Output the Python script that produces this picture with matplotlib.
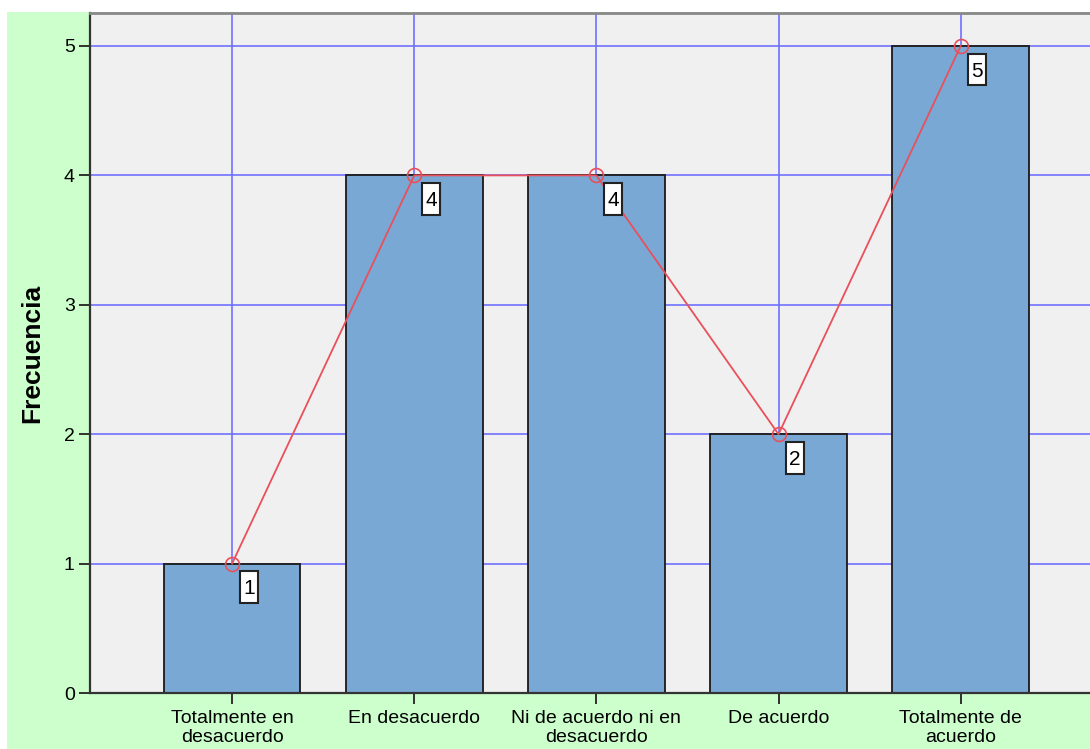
import matplotlib
matplotlib.use("Agg")
import matplotlib.pyplot as plt
from matplotlib.patches import Rectangle
from matplotlib.path import Path

categories = ["Totalmente en\ndesacuerdo", "En desacuerdo", "Ni de acuerdo ni en\ndesacuerdo",
              "De acuerdo", "Totalmente de\nacuerdo"]
frecuencia = [1, 4, 4, 2, 5]
y_ticks = [0, 1, 2, 3, 4, 5]

plt.rcParams["font.family"] = ["Liberation Sans", "DejaVu Sans"]

W, H = 1090, 749
fig = plt.figure(figsize=(W / 100, H / 100), dpi=100)
fig.patch.set_facecolor("white")
# light green panel behind the chart
fig.patches.append(Rectangle((7 / W, 0), 1 - 7 / W, (H - 12) / H, transform=fig.transFigure,
                             facecolor="#ccffcc", edgecolor="none", zorder=-1))

ax = fig.add_axes([90 / W, (H - 693) / H, 1 - 90 / W, (693 - 13) / H])
ax.set_facecolor("#f0f0f0")

x = list(range(len(categories)))
ax.set_xlim(-0.78, 4.71)
ax.set_ylim(0, 5.255)

ax.bar(x, frecuencia, width=0.75, color="#79a8d5", edgecolor="#1a1a1a", linewidth=1.3, zorder=2)
ax.plot(x, frecuencia, color="#e9505a", linewidth=1.3, marker="o", markersize=10,
        markerfacecolor="none", markeredgecolor="#e9505a", markeredgewidth=1.2, zorder=4)


def tall_box(x0, y0, width, height, mutation_size):
    """Label box: narrow side padding, taller top/bottom padding, digit centred."""
    px = 0.16 * mutation_size
    top, bottom = 0.38 * mutation_size, 0.22 * mutation_size
    xa, ya = x0 - px, y0 - bottom
    xb, yb = x0 + width + px, y0 + height + top
    return Path([(xa, ya), (xb, ya), (xb, yb), (xa, yb), (xa, ya)],
                [Path.MOVETO, Path.LINETO, Path.LINETO, Path.LINETO, Path.CLOSEPOLY])


for xi, v in zip(x, frecuencia):
    ax.annotate(str(v), (xi, v), xytext=(12, -18.2), textcoords="offset points",
                ha="center", va="center", fontsize=15, color="black", zorder=5,
                bbox=dict(boxstyle=tall_box, facecolor="white",
                          edgecolor="#222222", linewidth=1.5))

ax.set_xticks(x)
ax.set_xticklabels(categories, fontsize=14, linespacing=1.2)
ax.set_yticks(y_ticks)
ax.set_yticklabels([str(t) for t in y_ticks], fontsize=14)
ax.tick_params(axis="x", length=8, width=1.3, color="#222222", pad=4)
ax.tick_params(axis="y", length=8, width=1.3, color="#222222", pad=3)

ax.grid(True, color="#6f6fff", linewidth=1.4, alpha=0.85, zorder=1)
ax.set_axisbelow(True)

for side in ("left", "bottom"):
    ax.spines[side].set_color("#333333")
    ax.spines[side].set_linewidth(1.6)
ax.spines["top"].set_color("#888888")
ax.spines["top"].set_linewidth(2)
ax.spines["right"].set_visible(False)

ax.set_ylabel("Frecuencia", fontsize=19, fontweight="bold")
ax.yaxis.set_label_coords(-46 / 1000, 0.5)

fig.savefig("out.png", dpi=100)
